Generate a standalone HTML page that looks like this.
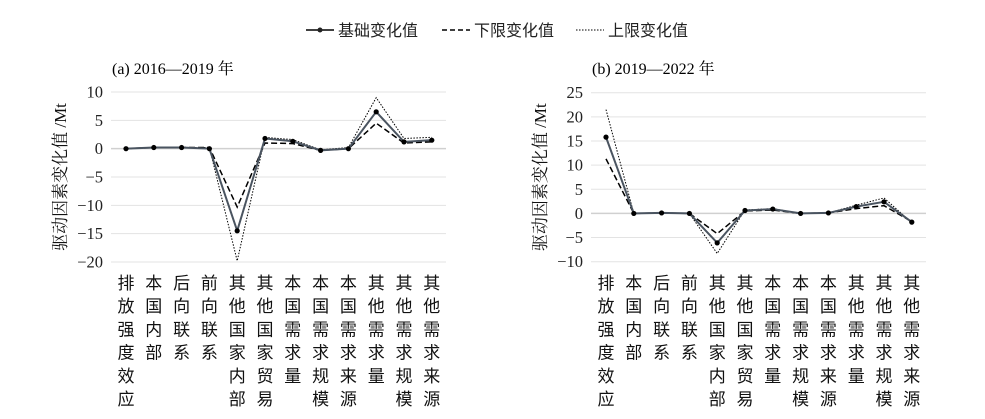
<!DOCTYPE html><html><head><meta charset="utf-8"><style>body{margin:0;background:#fff}</style></head><body>
<svg width="985" height="414" xmlns="http://www.w3.org/2000/svg" font-family="Liberation Serif, Noto Serif CJK SC, serif">
<g font-size="16" font-family="Liberation Sans, Noto Sans CJK SC, sans-serif" fill="#222">
<line x1="306" y1="30" x2="334" y2="30" stroke="#000" stroke-width="1.5"/><circle cx="320" cy="30" r="2.5"/>
<text x="338" y="36">基础变化值</text>
<line x1="442" y1="30" x2="470" y2="30" stroke="#000" stroke-width="1.5" stroke-dasharray="5,3"/>
<text x="474" y="36">下限变化值</text>
<line x1="576" y1="30" x2="604" y2="30" stroke="#000" stroke-width="1" stroke-dasharray="1.5,1.5"/>
<text x="608" y="36">上限变化值</text>
</g>
<text x="112" y="74" font-size="16" font-family="Liberation Serif, Noto Serif CJK SC, serif">(a) 2016—2019 年</text>
<text x="592" y="74" font-size="16" font-family="Liberation Serif, Noto Serif CJK SC, serif">(b) 2019—2022 年</text>
<g id="charts"></g>
</svg>
<script>
const ns="http://www.w3.org/2000/svg",g=document.getElementById('charts');
function el(t,a,txt){const e=document.createElementNS(ns,t);for(const k in a)e.setAttribute(k,a[k]);if(txt!=null)e.textContent=txt;g.appendChild(e);return e;}
const cats=["排放强度效应","本国内部","后向联系","前向联系","其他国家内部","其他国家贸易","本国需求量","本国需求规模","本国需求来源","其他需求量","其他需求规模","其他需求来源"];
function chart(x0,x1,px0,ymax,ymin,step,top,bot,base,lo,hi){
 const Y=v=>top+(ymax-v)/(ymax-ymin)*(bot-top);
 for(let v=ymax;v>=ymin;v-=step){el('line',{x1:x0,x2:x1,y1:Y(v),y2:Y(v),stroke:v==0?'#d0d0d0':'#e3e3e3','stroke-width':v==0?1.5:1});
  el('text',{x:x0-8,y:Y(v)+5.5,'text-anchor':'end','font-size':16.5,fill:'#222','font-family':'Liberation Serif, serif'},v<0?'−'+(-v):String(v));}
 const X=i=>px0+27.8*i;
 const pts=a=>a.map((v,i)=>X(i)+','+Y(v)).join(' ');
 el('polyline',{points:pts(hi),fill:'none',stroke:'#000','stroke-width':1,'stroke-dasharray':'1.5,1.5'});
 el('polyline',{points:pts(lo),fill:'none',stroke:'#000','stroke-width':1.5,'stroke-dasharray':'6,3'});
 el('polyline',{points:pts(base),fill:'none',stroke:'#4a5460','stroke-width':2,'stroke-linejoin':'round'});
 base.forEach((v,i)=>el('circle',{cx:X(i),cy:Y(v),r:2.6,fill:'#000'}));
 cats.forEach((c,i)=>[...c].forEach((ch,j)=>el('text',{x:X(i),y:289+j*23.2,'text-anchor':'middle','font-size':17,fill:'#111','font-family':'Noto Sans CJK SC, sans-serif'},ch)));
 el('text',{x:0,y:0,'font-size':17,fill:'#111','font-family':'Liberation Serif, Noto Serif CJK SC, serif','text-anchor':'middle',transform:`translate(${x0-45},${(top+bot)/2}) rotate(-90)`},'驱动因素变化值 /Mt');
}
chart(111,446,126,10,-20,5,92,262,
[0,0.2,0.2,0,-14.5,1.8,1.3,-0.3,0,6.5,1.2,1.5],
[0,0.2,0.2,0.2,-10.3,1,0.9,-0.3,0,4.5,1,1.2],
[0,0.2,0.2,0.2,-19.8,2,1.6,-0.2,0.2,9,1.8,2]);
chart(591,926,606,25,-10,5,92.7,261.7,
[15.8,0,0.1,0,-6.1,0.6,0.9,0,0.1,1.4,2.4,-1.8],
[11.3,0,0.1,0,-4.2,0.5,0.7,0,0.1,1,1.6,-1.7],
[21.5,0,0.1,0,-8.3,0.7,1,0,0.1,1.7,3.2,-1.9]);
</script>
</body></html>
